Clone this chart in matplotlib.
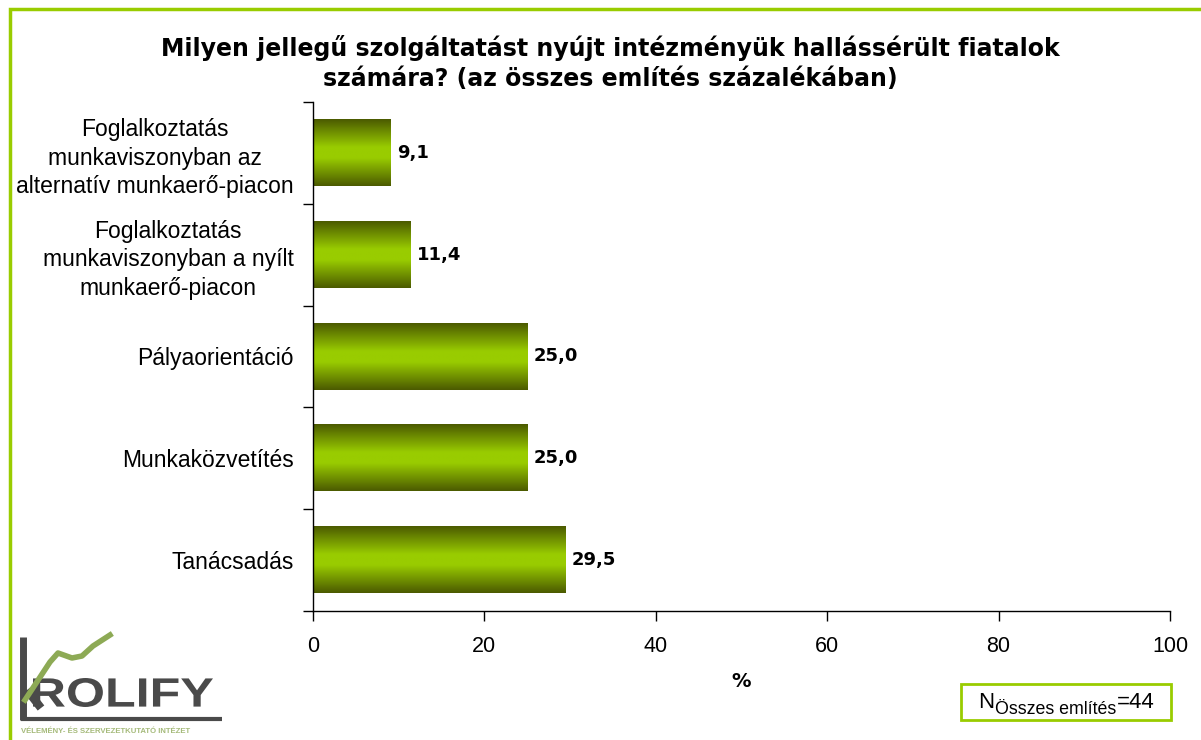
import numpy as np
import matplotlib
matplotlib.use("Agg")
import matplotlib.pyplot as plt
from matplotlib.colors import LinearSegmentedColormap
from matplotlib.patches import Rectangle, PathPatch
from matplotlib.lines import Line2D
from matplotlib.textpath import TextPath
from matplotlib.font_manager import FontProperties
from matplotlib.transforms import Affine2D

# Service types (top to bottom) and share of all mentions, %
categories = [
    "Foglalkoztatás\nmunkaviszonyban az\nalternatív munkaerő-piacon",
    "Foglalkoztatás\nmunkaviszonyban a nyílt\nmunkaerő-piacon",
    "Pályaorientáció",
    "Munkaközvetítés",
    "Tanácsadás",
]
values = [9.1, 11.4, 25.0, 25.0, 29.5]
value_labels = ["9,1", "11,4", "25,0", "25,0", "29,5"]
x_ticks = [0, 20, 40, 60, 80, 100]
title = ("Milyen jellegű szolgáltatást nyújt intézményük hallássérült fiatalok\n"
         "számára? (az összes említés százalékában)")
n_total = 44

W, H = 1201, 740
fig = plt.figure(figsize=(W / 100, H / 100), dpi=100)
fig.patch.set_facecolor("white")

def fx(px):
    return px / W

def fy(py):
    return 1 - py / H

# green frame around the chart area
fig.add_artist(Rectangle((fx(10), fy(760)), fx(1220), 751 / H, transform=fig.transFigure,
                         fill=False, edgecolor="#99CC00", linewidth=2.5))

ax = fig.add_axes([fx(313), fy(611), fx(1170) - fx(313), (611 - 102) / H])

n = len(categories)
ypos = np.arange(n)[::-1]
bars = ax.barh(ypos, values, height=0.65, color="none", edgecolor="none")

# vertical gradient: dark olive at the edges, bright green in the middle
cmap = LinearSegmentedColormap.from_list(
    "olive", [(0.0, "#4B5A00"), (0.42, "#99CC00"), (0.58, "#99CC00"), (1.0, "#4B5A00")])
grad = np.linspace(0, 1, 256).reshape(-1, 1)
for b in bars:
    x0, y0, w, h = b.get_x(), b.get_y(), b.get_width(), b.get_height()
    ax.imshow(grad, cmap=cmap, aspect="auto", extent=(x0, x0 + w, y0, y0 + h),
              origin="upper", zorder=2, interpolation="bilinear")

for b, lab in zip(bars, value_labels):
    ax.annotate(lab, (b.get_width(), b.get_y() + b.get_height() / 2),
                xytext=(4.5, 0), textcoords="offset points", va="center", ha="left",
                fontsize=13, fontweight="bold", family="DejaVu Sans", color="black")

ax.set_xlim(0, 100)
ax.set_ylim(-0.5, n - 0.5)
ax.set_xticks(x_ticks)
ax.set_xticklabels([str(t) for t in x_ticks], fontsize=15.5, family="Liberation Sans")
ax.set_yticks(ypos)
ax.set_yticklabels(categories, fontsize=16.5, family="Liberation Sans")
ax.tick_params(axis="y", length=0, pad=14)
ax.set_yticks(np.arange(-0.5, n, 1.0), minor=True)
ax.tick_params(axis="y", which="minor", length=7, width=1, direction="out")
ax.tick_params(axis="x", length=7, width=1, direction="out", pad=11)
for s in ["top", "right"]:
    ax.spines[s].set_visible(False)
for s in ["left", "bottom"]:
    ax.spines[s].set_linewidth(1)
ax.set_xlabel("%", fontsize=14, fontweight="bold", family="DejaVu Sans", labelpad=11)
for lab in ax.get_yticklabels():
    lab.set_multialignment("center")
    lab.set_linespacing(1.3)

fig.text(fx(610), fy(63), title, ha="center", va="center", fontsize=17,
         fontweight="bold", family="DejaVu Sans", linespacing=1.35)

# sample size box
fig.add_artist(Rectangle((fx(961), fy(720)), fx(1171) - fx(961), (720 - 684) / H,
                         transform=fig.transFigure, fill=False,
                         edgecolor="#99CC00", linewidth=2))
fig.canvas.draw()
r = fig.canvas.get_renderer()
t1 = fig.text(fx(978), fy(708), "N", fontsize=16, family="Liberation Sans",
              ha="left", va="baseline")
bb = t1.get_window_extent(r)
t2 = fig.text(bb.x1 / W + fx(1), fy(714), "Összes említés", fontsize=12.8,
              family="Liberation Sans", ha="left", va="baseline")
bb2 = t2.get_window_extent(r)
fig.text(bb2.x1 / W, fy(708), f"={n_total}", fontsize=16,
         family="Liberation Sans", ha="left", va="baseline")

# institute logo
gray = "#4A4A4A"
fig.add_artist(Line2D([fx(23), fx(23)], [fy(637), fy(720)], transform=fig.transFigure,
                      color=gray, linewidth=5, solid_capstyle="butt"))
fig.add_artist(Line2D([fx(21), fx(222)], [fy(719), fy(719)], transform=fig.transFigure,
                      color=gray, linewidth=3, solid_capstyle="butt"))
fig.add_artist(Line2D([fx(27), fx(41)], [fy(690), fy(708)], transform=fig.transFigure,
                      color=gray, linewidth=6, solid_capstyle="butt"))
gx = [25, 50, 58, 72, 82, 93, 110]
gy = [700, 662, 653, 658, 656, 646, 635]
fig.add_artist(Line2D([fx(v) for v in gx], [fy(v) for v in gy], transform=fig.transFigure,
                      color="#8DAA55", linewidth=4))
# wide lettering, stretched to the logo box
tp = TextPath((0, 0), "ROLIFY", size=10,
              prop=FontProperties(family="Liberation Sans", weight="bold"))
ext = tp.get_extents()
x0p, x1p, ytop, ybot = 33, 213, 678, 707
sx = (fx(x1p) - fx(x0p)) / ext.width
sy = (fy(ytop) - fy(ybot)) / ext.height
tr = Affine2D().translate(-ext.x0, -ext.y0).scale(sx, sy).translate(fx(x0p), fy(ybot))
fig.add_artist(PathPatch(tr.transform_path(tp), transform=fig.transFigure,
                         facecolor=gray, edgecolor="none"))
fig.text(fx(21), fy(733), "VÉLEMÉNY- ÉS SZERVEZETKUTATÓ INTÉZET", fontsize=5.6,
         fontweight="bold", family="Liberation Sans", color="#A5BA7A",
         ha="left", va="baseline")

fig.savefig("out.png", dpi=100, facecolor="white")
